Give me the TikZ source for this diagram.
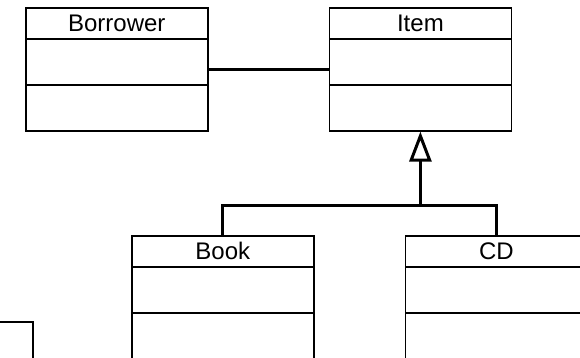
\documentclass[tikz,border=0pt]{standalone}
\usepackage{fontspec}
\setmainfont{Liberation Sans}
\usetikzlibrary{positioning,arrows.meta}

\begin{document}
\begin{tikzpicture}[x=1pt,y=-1pt,
  plainbox/.style={draw,line width=1.6pt,inner sep=0pt,minimum width=182pt,
    text height=24pt,text depth=99pt,font=\fontsize{24}{28}\selectfont},
  classbox/.style={plainbox,
    path picture={\draw[line width=1.6pt]
      ([yshift=-31pt]path picture bounding box.north west) -- ([yshift=-31pt]path picture bounding box.north east)
      ([yshift=-77pt]path picture bounding box.north west) -- ([yshift=-77pt]path picture bounding box.north east);}},
  link/.style={line width=3pt},
  inherit/.style={line width=3pt,-{Triangle[open,length=30pt,width=22pt]}}]

\useasboundingbox (0,0) rectangle (580,358);
\clip (0,0) rectangle (580,358);

\node[classbox,anchor=north west](borrower) at (25,7) {Borrower};
\node[classbox,right=120pt of borrower](item) {Item};
\node[classbox,anchor=north west](book) at (131,235) {Book};
\node[classbox,right=90pt of book](cd) {CD};
\node[plainbox,anchor=north east](other) at (34,321) {};

\path (item.south) ++(0,74) coordinate (fork);

\draw[link] (borrower.east) -- (item.west);
\draw[link] (book.north) |- (fork) -| (cd.north);
\draw[inherit] (fork) -- (item.south);

\end{tikzpicture}
\end{document}
